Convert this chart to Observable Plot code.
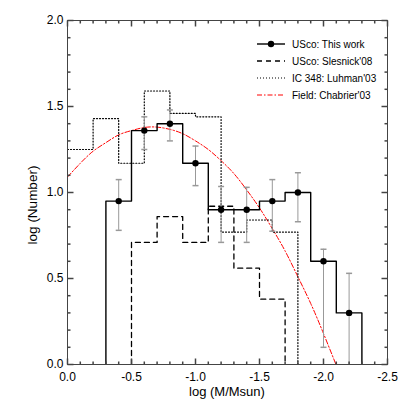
<!DOCTYPE html>
<html>
<head>
<meta charset="utf-8">
<script src="https://cdn.jsdelivr.net/npm/d3@7"></script>
<script src="https://cdn.jsdelivr.net/npm/@observablehq/plot@0.6"></script>
<style>
  html, body { margin: 0; padding: 0; background: #fff; }
  #chart svg { display: block; }
</style>
</head>
<body>
<div id="chart"></div>
<script>
// ---- data ----
// USco: This work (bin edges of log M/Msun, log N, error bar ends)
const uscoEdges = [-0.3, -0.5, -0.7, -0.9, -1.1, -1.3, -1.5, -1.7, -1.9, -2.1, -2.3];
const uscoCenters = [-0.4, -0.6, -0.8, -1.0, -1.2, -1.4, -1.6, -1.8, -2.0, -2.2];
const uscoLogN = [0.95, 1.36, 1.40, 1.17, 0.90, 0.90, 0.95, 1.00, 0.60, 0.30];
const uscoErrHi = [1.075, 1.44, 1.48, 1.27, 1.035, 1.03, 1.075, 1.115, 0.67, 0.53];
const uscoErrLo = [0.78, 1.25, 1.30, 1.04, 0.71, 0.71, 0.775, 0.83, 0.10, -0.25];

// USco: Slesnick'08
const slesEdges = [-0.5, -0.7, -0.9, -1.1, -1.3, -1.5, -1.7];
const slesLogN = [0.71, 0.86, 0.71, 0.92, 0.56, 0.38];

// IC 348: Luhman'03
const luhEdges = [0.0, -0.2, -0.4, -0.6, -0.8, -1.0, -1.2, -1.4, -1.6, -1.8, -2.0];
const luhLogN = [1.25, 1.43, 1.17, 1.59, 1.46, 1.44, 0.77, 0.84, 0.77, 0.0];

// Field: Chabrier'03 (sampled along the curve)
const chabX = [0.0, -0.1, -0.2, -0.3, -0.4, -0.5, -0.6, -0.7, -0.8, -0.9, -1.0, -1.1, -1.2, -1.3, -1.4, -1.5, -1.6, -1.7, -1.8, -1.9, -2.0, -2.1];
const chabY = [1.09, 1.17, 1.24, 1.29, 1.335, 1.36, 1.378, 1.38, 1.367, 1.342, 1.30, 1.25, 1.185, 1.11, 1.015, 0.91, 0.79, 0.66, 0.51, 0.355, 0.18, -0.005];

// ticks
const xMajor = [0, -0.5, -1.0, -1.5, -2.0, -2.5];
const xMinor = [-0.1, -0.2, -0.3, -0.4, -0.6, -0.7, -0.8, -0.9, -1.1, -1.2, -1.3, -1.4, -1.6, -1.7, -1.8, -1.9, -2.1, -2.2, -2.3, -2.4];
const yMajor = [0, 0.5, 1.0, 1.5, 2.0];
const yMinor = [0.1, 0.2, 0.3, 0.4, 0.6, 0.7, 0.8, 0.9, 1.1, 1.2, 1.3, 1.4, 1.6, 1.7, 1.8, 1.9];

const legendItems = ["USco: This work", "USco: Slesnick'08", "IC 348: Luhman'03", "Field: Chabrier'03"];

// ---- helpers ----
function steps(edges, values, startAtZero = true) {
  const pts = [];
  if (startAtZero) pts.push({x: edges[0], y: 0});
  values.forEach((v, i) => { pts.push({x: edges[i], y: v}, {x: edges[i + 1], y: v}); });
  pts.push({x: edges[edges.length - 1], y: 0});
  return pts;
}
const seg = (dx, dy) => ({draw(ctx) { ctx.moveTo(0, 0); ctx.lineTo(dx, dy); }});
const cap = {draw(ctx) { ctx.moveTo(-3, 0); ctx.lineTo(3, 0); }};

const usco = uscoCenters.map((c, i) => ({x: c, y: uscoLogN[i], lo: uscoErrLo[i], hi: uscoErrHi[i]}));
const caps = usco.flatMap(d => [{x: d.x, y: d.hi}, {x: d.x, y: d.lo}]);
const chab = chabX.map((x, i) => ({x, y: chabY[i]}));
const fmt = d => Math.abs(d) < 1e-9 ? "0.0" : d.toFixed(1);
const tc = "#444";

const tickMarks = [
  Plot.dot(xMajor, {x: d => d, frameAnchor: "bottom", symbol: seg(0, -6), fill: "none", stroke: tc}),
  Plot.dot(xMinor, {x: d => d, frameAnchor: "bottom", symbol: seg(0, -3), fill: "none", stroke: tc}),
  Plot.dot(xMajor, {x: d => d, frameAnchor: "top", symbol: seg(0, 6), fill: "none", stroke: tc}),
  Plot.dot(xMinor, {x: d => d, frameAnchor: "top", symbol: seg(0, 3), fill: "none", stroke: tc}),
  Plot.dot(yMajor, {y: d => d, frameAnchor: "left", symbol: seg(6, 0), fill: "none", stroke: tc}),
  Plot.dot(yMinor, {y: d => d, frameAnchor: "left", symbol: seg(3, 0), fill: "none", stroke: tc}),
  Plot.dot(yMajor, {y: d => d, frameAnchor: "right", symbol: seg(-6, 0), fill: "none", stroke: tc}),
  Plot.dot(yMinor, {y: d => d, frameAnchor: "right", symbol: seg(-3, 0), fill: "none", stroke: tc})
];

const chart = Plot.plot({
  width: 407,
  height: 407,
  marginLeft: 67,
  marginRight: 20,
  marginTop: 20,
  marginBottom: 43,
  style: {fontFamily: "'Liberation Sans', Arial, Helvetica, sans-serif", background: "#fff", color: "#000"},
  x: {domain: [0, -2.5]},
  y: {domain: [0, 2]},
  marks: [
    Plot.line(chab, {x: "x", y: "y", curve: "natural", stroke: "#ff0000", strokeWidth: 1, strokeDasharray: "5,2,1.5,2", clip: true}),
    Plot.line(steps(luhEdges, luhLogN, false), {x: "x", y: "y", stroke: "#000", strokeWidth: 1.2, strokeDasharray: "1,2", clip: true}),
    Plot.line(steps(slesEdges, slesLogN), {x: "x", y: "y", stroke: "#000", strokeWidth: 1.3, strokeDasharray: "5,4", clip: true}),
    Plot.ruleX(usco, {x: "x", y1: "lo", y2: "hi", stroke: "#999", strokeWidth: 1, clip: true}),
    Plot.dot(caps, {x: "x", y: "y", symbol: cap, fill: "none", stroke: "#999", clip: true}),
    Plot.line(steps(uscoEdges, uscoLogN), {x: "x", y: "y", stroke: "#000", strokeWidth: 1.4, clip: true}),
    Plot.dot(usco, {x: "x", y: "y", r: 3.2, fill: "#000", stroke: "none"}),
    ...tickMarks,
    Plot.frame({stroke: tc, strokeWidth: 1}),
    Plot.axisX({ticks: xMajor, tickSize: 0, tickPadding: 8, tickFormat: fmt, fontSize: 12, label: null}),
    Plot.axisY({ticks: yMajor, tickSize: 0, tickPadding: 4, tickFormat: fmt, fontSize: 12, label: null})
  ]
});

document.getElementById("chart").append(chart);

// titles and legend
const svg = d3.select(chart);
const ff = "'Liberation Sans', Arial, Helvetica, sans-serif";
svg.append("text").attr("x", 227).attr("y", 396).attr("text-anchor", "middle")
  .attr("font-family", ff).attr("font-size", 13).attr("fill", "#000").text("log (M/Msun)");
svg.append("text").attr("transform", "translate(37,205) rotate(-90)").attr("text-anchor", "middle")
  .attr("font-family", ff).attr("font-size", 13.5).attr("fill", "#000").text("log (Number)");

const styles = [
  {stroke: "#000", dash: null, w: 1.4, dot: true},
  {stroke: "#000", dash: "5,4", w: 1.3},
  {stroke: "#000", dash: "1,2", w: 1.2},
  {stroke: "#ff0000", dash: "5,2,1.5,2", w: 1}
];
const leg = svg.append("g").attr("font-family", ff).attr("font-size", 10).attr("text-anchor", "start");
legendItems.forEach((label, i) => {
  const y = 44 + i * 17;
  const s = styles[i];
  leg.append("line").attr("x1", 257).attr("x2", 285).attr("y1", y).attr("y2", y)
    .attr("stroke", s.stroke).attr("stroke-width", s.w).attr("stroke-dasharray", s.dash);
  if (s.dot) leg.append("circle").attr("cx", 271).attr("cy", y).attr("r", 3.2).attr("fill", "#000");
  leg.append("text").attr("x", 292).attr("y", y).attr("dy", "0.35em").attr("text-anchor", "start")
    .attr("fill", "#000").text(label);
});
</script>
</body>
</html>
